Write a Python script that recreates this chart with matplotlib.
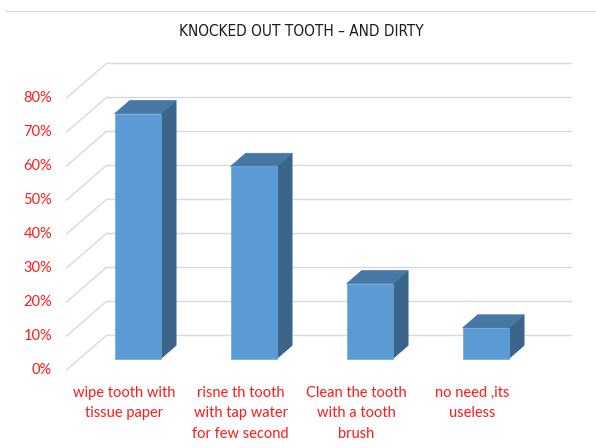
import matplotlib
matplotlib.use('Agg')
import matplotlib.pyplot as plt
from matplotlib.patches import Polygon
from matplotlib.lines import Line2D

# data
categories = ['wipe tooth with\ntissue paper',
              'risne th tooth\nwith tap water\nfor few second',
              'Clean the tooth\nwith a tooth\nbrush',
              'no need ,its\nuseless']
values = [72, 56.5, 22, 9]
yticks = [0, 10, 20, 30, 40, 50, 60, 70, 80]
title = 'KNOCKED OUT TOOTH \u2013 AND DIRTY'

# fake 3-D geometry (data units: 1 x-unit per category, y in %)
DX, DY = 0.345, 10.2      # full floor depth offset
D0, D1 = 0.33, 0.71       # bar front / back depth fraction
W = 0.40                  # bar width
FRONT, TOP, SIDE = '#5B9BD5', '#4677A5', '#3A6489'
GRID = '#D9D9D9'
RED = '#FF1A1A'

fig = plt.figure(figsize=(5.96, 4.48), dpi=100)
ax = fig.add_axes([0, 0, 1, 1])
ax.set_xlim((0 - 124.5) / 116, (596 - 124.5) / 116)
ax.set_ylim((370 - 448) / 3.4, (370 - 0) / 3.4)
ax.axis('off')

x0, x1 = -0.5, len(values) - 0.5
for v in yticks:
    ax.plot([x0, x0 + DX], [v, v + DY], color=GRID, lw=1.0, zorder=1)
    ax.plot([x0 + DX, x1 + DX], [v + DY, v + DY], color=GRID, lw=1.0, zorder=1)
    ax.text(-0.625, v, f'{v}%', ha='right', va='center', color=RED,
            fontsize=10.5, family='Lato')

for i, v in enumerate(values):
    l = i - W / 2 + D0 * DX; r = i + W / 2 + D0 * DX
    b = D0 * DY; t = v + D0 * DY
    ddx = (D1 - D0) * DX; ddy = (D1 - D0) * DY
    ax.add_patch(Polygon([(r, b), (r + ddx, b + ddy), (r + ddx, t + ddy), (r, t)],
                         closed=True, fc=SIDE, ec=SIDE, lw=0.5, zorder=3))
    ax.add_patch(Polygon([(l, t), (r, t), (r + ddx, t + ddy), (l + ddx, t + ddy)],
                         closed=True, fc=TOP, ec=TOP, lw=0.5, zorder=3))
    ax.add_patch(Polygon([(l, b), (r, b), (r, t), (l, t)],
                         closed=True, fc=FRONT, ec='#6CA6DA', lw=0.5, zorder=4))
    ax.text(i, -4.6, categories[i], ha='center', va='top', color=RED,
            fontsize=10.5, family='Lato', linespacing=1.62)

fig.text(301.5 / 596, 1 - 31 / 448, title, ha='center', va='center',
         fontsize=11, color='#1A1A1A', family='DejaVu Sans', stretch='condensed')
fig.add_artist(Line2D([6 / 596, 1], [1 - 11 / 448, 1 - 11 / 448],
                      transform=fig.transFigure, color=GRID, lw=1.0))

fig.savefig('out.png', dpi=100)
